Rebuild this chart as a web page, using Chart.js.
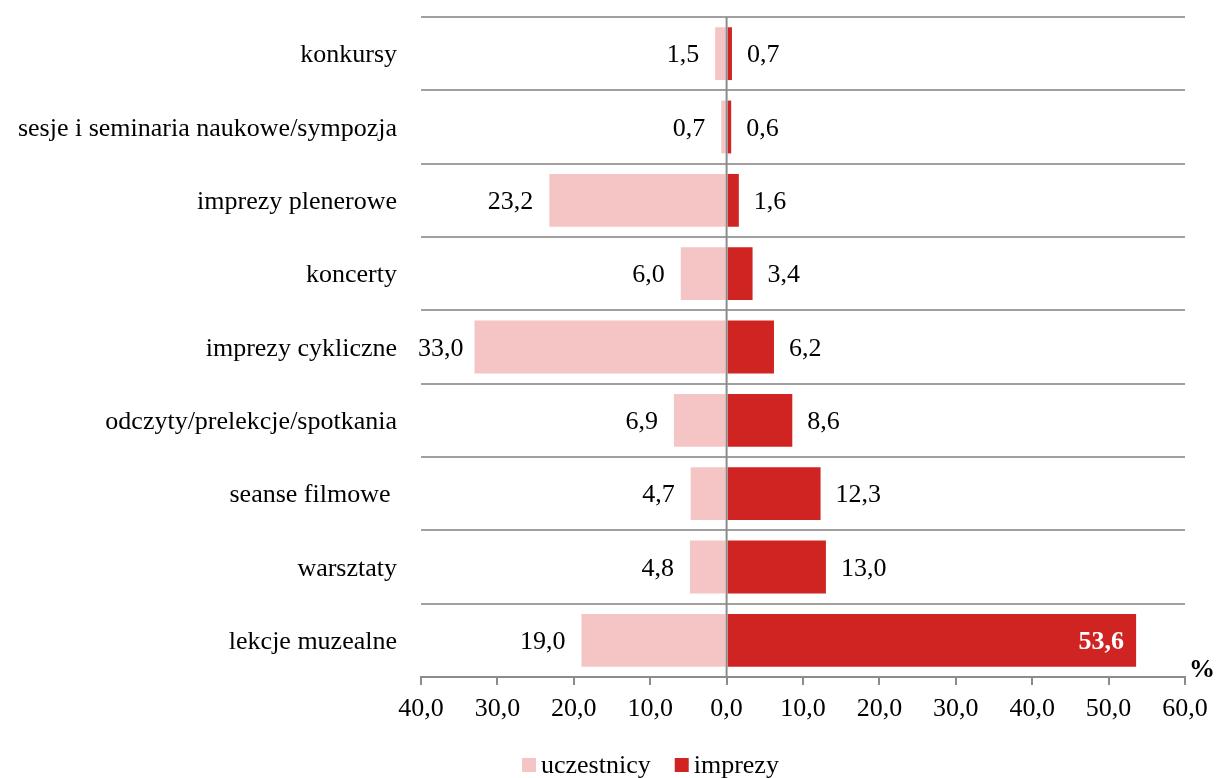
<!DOCTYPE html>
<html><head><meta charset="utf-8">
<script src="https://cdn.jsdelivr.net/npm/chart.js@4/dist/chart.umd.min.js"></script>
<style>html,body{margin:0;padding:0;background:#fff}#wrap{width:1216px;height:778px;position:relative}</style>
</head><body><div id="wrap"><canvas id="c"></canvas></div>
<script>
const categories = ["konkursy","sesje i seminaria naukowe/sympozja","imprezy plenerowe","koncerty","imprezy cykliczne","odczyty/prelekcje/spotkania","seanse filmowe ","warsztaty","lekcje muzealne"];
const uczestnicy = [1.5,0.7,23.2,6.0,33.0,6.9,4.7,4.8,19.0];
const imprezy = [0.7,0.6,1.6,3.4,6.2,8.6,12.3,13.0,53.6];
const seriesNames = ["uczestnicy","imprezy"];
const seriesColors = ["#F5C4C4","#D02422"];
const xMin = -40, xMax = 60, xStep = 10;
const unitLabel = "%";

const FONT = "'Liberation Serif','Times New Roman',serif";
const FS = 26;
const fmt = v => Math.abs(v).toFixed(1).replace('.', ',');

const labelPlugin = {
  id: 'labels',
  afterDatasetsDraw(chart) {
    const ctx = chart.ctx;
    const area = chart.chartArea;
    const x0 = chart.scales.x.getPixelForValue(0);
    ctx.save();
    // zero line
    ctx.strokeStyle = '#8c8c8c';
    ctx.lineWidth = 2;
    ctx.beginPath();
    ctx.moveTo(x0, area.top);
    ctx.lineTo(x0, area.bottom);
    ctx.stroke();
    ctx.textBaseline = 'middle';
    chart.data.datasets.forEach((ds, di) => {
      const meta = chart.getDatasetMeta(di);
      meta.data.forEach((bar, i) => {
        const v = ds.data[i];
        const txt = fmt(v);
        ctx.font = FS + 'px ' + FONT;
        ctx.fillStyle = '#000';
        const w = ctx.measureText(txt).width;
        if (v < 0) {
          let right = bar.x - 16;
          if (right - w < area.left - 3) right = area.left - 3 + w;
          ctx.textAlign = 'right';
          ctx.fillText(txt, right, bar.y + 2);
        } else {
          if (bar.x + 15 + w > area.right) {
            ctx.font = 'bold ' + FS + 'px ' + FONT;
            ctx.fillStyle = '#fff';
            ctx.textAlign = 'right';
            ctx.fillText(txt, bar.x - 12, bar.y + 2);
          } else {
            ctx.textAlign = 'left';
            ctx.fillText(txt, bar.x + 15, bar.y + 2);
          }
        }
      });
    });
    // unit label
    ctx.font = 'bold ' + FS + 'px ' + FONT;
    ctx.fillStyle = '#000';
    ctx.textAlign = 'center';
    ctx.fillText(unitLabel, area.right + 17, area.bottom - 7);
    ctx.restore();
  },
  afterDraw(chart) {
    // legend
    const ctx = chart.ctx;
    ctx.save();
    ctx.font = FS + 'px ' + FONT;
    ctx.textBaseline = 'alphabetic';
    ctx.textAlign = 'left';
    let x = 522;
    const baseY = 773;
    seriesNames.forEach((name, i) => {
      ctx.fillStyle = seriesColors[i];
      ctx.fillRect(x, 758, 14, 14);
      ctx.fillStyle = '#000';
      ctx.fillText(name, x + 19, baseY);
      x += 19 + ctx.measureText(name).width + 24;
    });
    ctx.restore();
  }
};

new Chart(document.getElementById('c'), {
  type: 'bar',
  data: {
    labels: categories,
    datasets: [
      { label: seriesNames[0], data: uczestnicy.map(v => -v), backgroundColor: seriesColors[0], categoryPercentage: 1, barPercentage: 0.72 },
      { label: seriesNames[1], data: imprezy, backgroundColor: seriesColors[1], categoryPercentage: 1, barPercentage: 0.72 }
    ]
  },
  plugins: [labelPlugin],
  options: {
    indexAxis: 'y',
    responsive: true,
    maintainAspectRatio: false,
    animation: false,
    layout: { padding: { top: 17, right: 31, left: 0, bottom: 0 } },
    plugins: {
      tooltip: { enabled: false },
      legend: { display: false }
    },
    scales: {
      x: {
        stacked: true,
        min: xMin, max: xMax,
        ticks: { stepSize: xStep, font: { family: FONT, size: FS }, color: '#000', padding: 9, maxRotation: 0, callback: v => fmt(v) },
        grid: { drawOnChartArea: false, drawTicks: true, tickLength: 8, color: '#8c8c8c', lineWidth: 2 },
        border: { display: true, color: '#8c8c8c', width: 2 },
        afterFit: s => { s.height = 101; s.paddingLeft = 0; s.paddingRight = 0; }
      },
      y: {
        stacked: true,
        ticks: { font: { family: FONT, size: FS }, color: '#000', padding: 24, labelOffset: 2 },
        grid: { offset: true, drawTicks: false, color: '#a0a0a0', lineWidth: 2 },
        border: { display: false },
        afterFit: s => { s.width = 421; s.paddingTop = 0; s.paddingBottom = 0; }
      }
    }
  }
});
</script></body></html>
